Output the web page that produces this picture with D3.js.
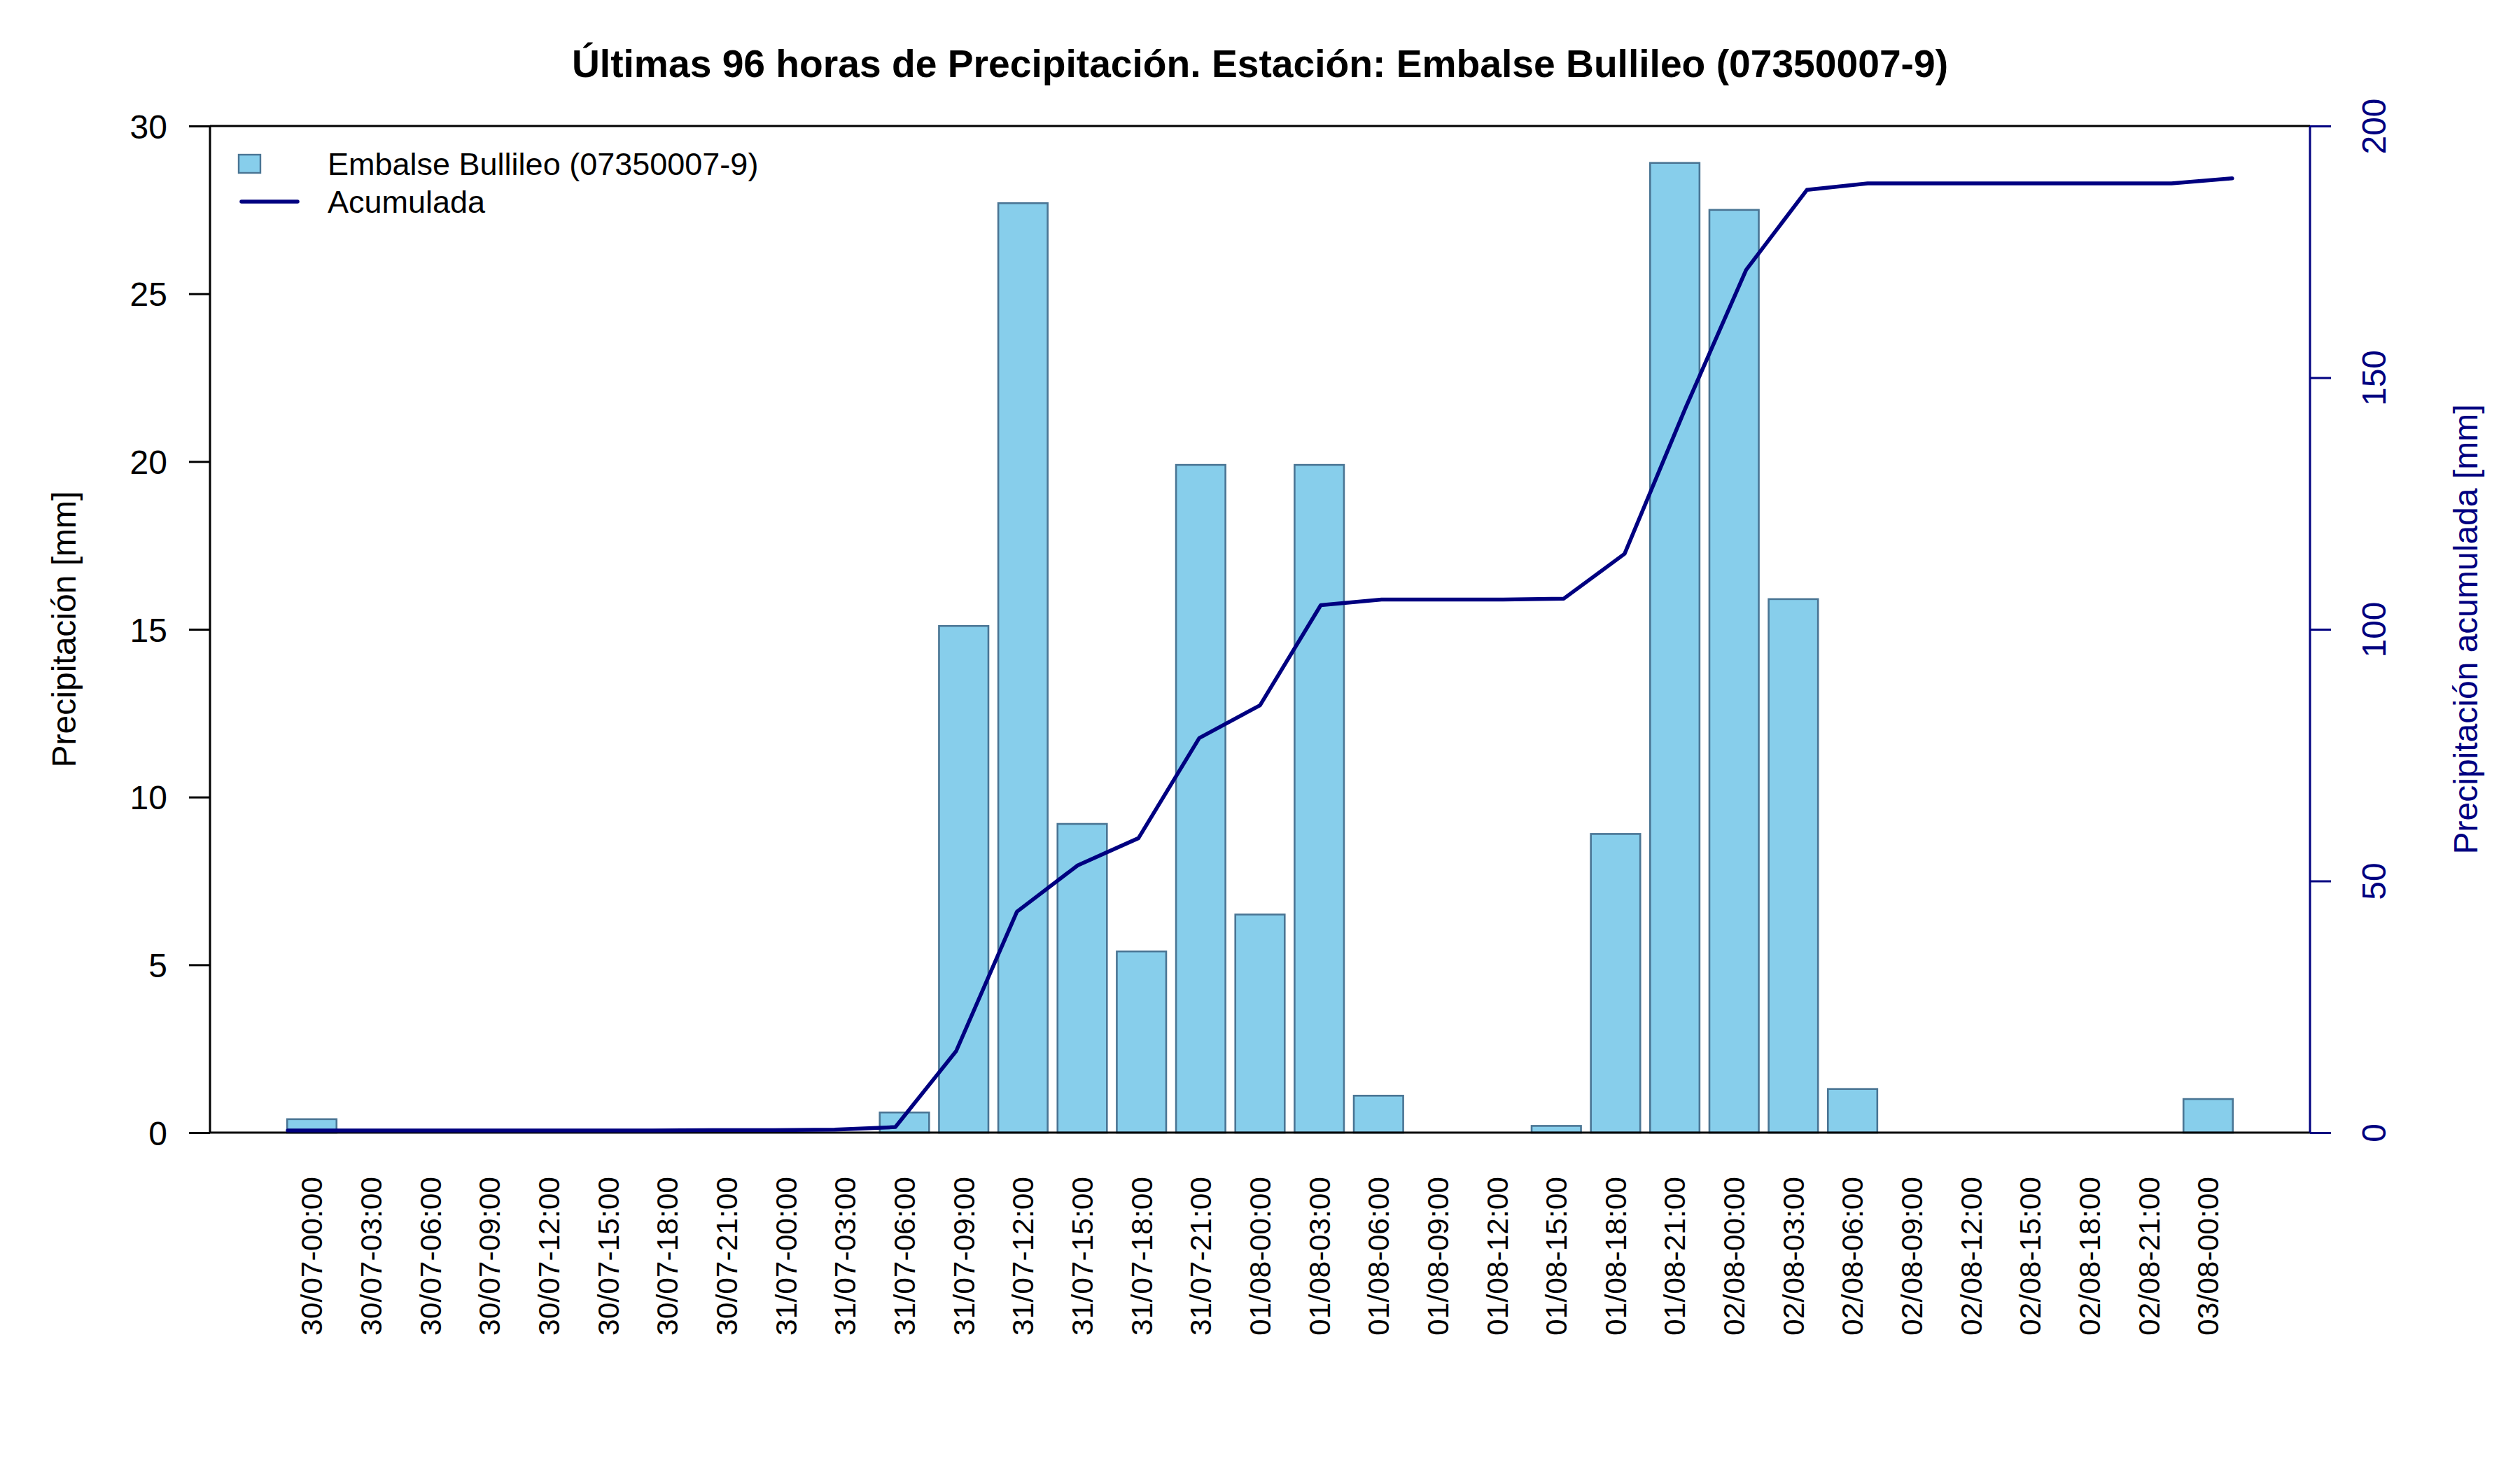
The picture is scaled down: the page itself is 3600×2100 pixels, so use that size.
<!DOCTYPE html>
<html>
<head>
<meta charset="utf-8">
<script src="https://cdn.jsdelivr.net/npm/d3@7"></script>
<style>
  html, body { margin: 0; padding: 0; background: #ffffff; }
  svg { display: block; }
  text { font-family: "Liberation Sans", Arial, Helvetica, sans-serif; }
</style>
</head>
<body>
<svg id="chart" width="3600" height="2100"></svg>
<script>
const categories = [
  "30/07-00:00","30/07-03:00","30/07-06:00","30/07-09:00","30/07-12:00","30/07-15:00",
  "30/07-18:00","30/07-21:00","31/07-00:00","31/07-03:00","31/07-06:00","31/07-09:00",
  "31/07-12:00","31/07-15:00","31/07-18:00","31/07-21:00","01/08-00:00","01/08-03:00",
  "01/08-06:00","01/08-09:00","01/08-12:00","01/08-15:00","01/08-18:00","01/08-21:00",
  "02/08-00:00","02/08-03:00","02/08-06:00","02/08-09:00","02/08-12:00","02/08-15:00",
  "02/08-18:00","02/08-21:00","03/08-00:00"
];
const precipitation = [
  0.4, 0, 0, 0, 0, 0, 0, 0, 0, 0, 0.6, 15.1,
  27.7, 9.2, 5.4, 19.9, 6.5, 19.9, 1.1, 0, 0, 0.2, 8.9, 28.9,
  27.5, 15.9, 1.3, 0, 0, 0, 0, 0, 1.0
];
const accumulated = [
  0.4, 0.4, 0.4, 0.4, 0.4, 0.4, 0.4, 0.5, 0.5, 0.6, 1.1, 16.2,
  43.9, 53.1, 58.5, 78.4, 84.9, 104.8, 105.9, 105.9, 105.9, 106.1, 115.0, 143.9,
  171.4, 187.3, 188.6, 188.6, 188.6, 188.6, 188.6, 188.6, 189.6
];
const leftTicks = [0, 5, 10, 15, 20, 25, 30];
const rightTicks = [0, 50, 100, 150, 200];
const title = "Últimas 96 horas de Precipitación. Estación: Embalse Bullileo (07350007-9)";
const leftTitle = "Precipitación [mm]";
const rightTitle = "Precipitación acumulada [mm]";
const seriesName = "Embalse Bullileo (07350007-9)";
const lineName = "Acumulada";

const L = 300, R = 3300, T = 180, B = 1618;
const navy = "#000080", barFill = "#87CEEB", barStroke = "#4a7594";

const svg = d3.select("#chart");
svg.append("rect").attr("width", 3600).attr("height", 2100).attr("fill", "#fff");

const x = d3.scaleBand().domain(categories).range([L, R]).paddingInner(1/6).paddingOuter(1.302);
const xLine = d3.scalePoint().domain(categories).range([L, R]).padding(1.28);
const y = d3.scaleLinear().domain([0, 30]).range([B, T]);
const y2 = d3.scaleLinear().domain([0, 200]).range([B, T]);

// bars
svg.append("g").selectAll("rect").data(precipitation).join("rect")
  .attr("x", (d, i) => x(categories[i]))
  .attr("y", d => y(d))
  .attr("width", x.bandwidth())
  .attr("height", d => y(0) - y(d))
  .attr("fill", barFill)
  .attr("stroke", barStroke)
  .attr("stroke-width", 2.6);

// box top & bottom
svg.append("line").attr("x1", L).attr("x2", R).attr("y1", T).attr("y2", T)
  .attr("stroke", "#000").attr("stroke-width", 3);
svg.append("line").attr("x1", L).attr("x2", R).attr("y1", B).attr("y2", B)
  .attr("stroke", "#000").attr("stroke-width", 3.2);

// left axis
const gL = svg.append("g").attr("transform", `translate(${L},0)`)
  .call(d3.axisLeft(y).tickValues(leftTicks).tickSize(30).tickPadding(31).tickFormat(d3.format("d")));
gL.select(".domain").attr("stroke", "#000").attr("stroke-width", 3).attr("d", `M0,${T}V${B}`);
gL.selectAll(".tick line").attr("stroke", "#000").attr("stroke-width", 3);
gL.selectAll(".tick text").attr("fill", "#000").attr("font-size", 48)
  .attr("font-family", "Liberation Sans, Arial, sans-serif").attr("dy", "0.36em");

// right axis
const gR = svg.append("g").attr("transform", `translate(${R},0)`)
  .call(d3.axisRight(y2).tickValues(rightTicks).tickSize(30).tickFormat(d3.format("d")));
gR.select(".domain").attr("stroke", navy).attr("stroke-width", 3).attr("d", `M0,${T}V${B}`);
gR.selectAll(".tick line").attr("stroke", navy).attr("stroke-width", 3);
gR.selectAll(".tick text").remove();
gR.selectAll(".tick").append("text")
  .attr("transform", "translate(108,0) rotate(-90)")
  .attr("text-anchor", "middle")
  .attr("fill", navy)
  .attr("font-size", 48)
  .attr("font-family", "Liberation Sans, Arial, sans-serif")
  .text(d => d);

// accumulated line
const line = d3.line().x((d, i) => xLine(categories[i])).y(d => y2(d));
svg.append("path").datum(accumulated)
  .attr("d", line)
  .attr("fill", "none")
  .attr("stroke", navy)
  .attr("stroke-width", 5.5)
  .attr("stroke-linejoin", "round")
  .attr("stroke-linecap", "round");

// x labels
svg.append("g").selectAll("text").data(categories).join("text")
  .attr("transform", d => `translate(${x(d) + x.bandwidth() / 2},1681) rotate(-90)`)
  .attr("text-anchor", "end")
  .attr("dy", "0.35em")
  .attr("font-size", 42.5)
  .attr("fill", "#000")
  .text(d => d);

// titles
svg.append("text").attr("x", 1800).attr("y", 110).attr("text-anchor", "middle")
  .attr("font-size", 55.2).attr("font-weight", "bold").attr("fill", "#000").text(title);
svg.append("text").attr("transform", `translate(108,${(T + B) / 2}) rotate(-90)`)
  .attr("text-anchor", "middle").attr("font-size", 48).attr("fill", "#000").text(leftTitle);
svg.append("text").attr("transform", `translate(3539,${(T + B) / 2}) rotate(-90)`)
  .attr("text-anchor", "middle").attr("font-size", 48).attr("fill", navy).text(rightTitle);

// legend
const lg = svg.append("g");
lg.append("rect").attr("x", 341).attr("y", 221).attr("width", 31).attr("height", 26)
  .attr("fill", barFill).attr("stroke", barStroke).attr("stroke-width", 2.4);
lg.append("text").attr("x", 468).attr("y", 250).attr("font-size", 45).attr("fill", "#000").text(seriesName);
lg.append("line").attr("x1", 345).attr("x2", 425).attr("y1", 288).attr("y2", 288)
  .attr("stroke", navy).attr("stroke-width", 5.5).attr("stroke-linecap", "round");
lg.append("text").attr("x", 468).attr("y", 304).attr("font-size", 45).attr("fill", "#000").text(lineName);
</script>
</body>
</html>
